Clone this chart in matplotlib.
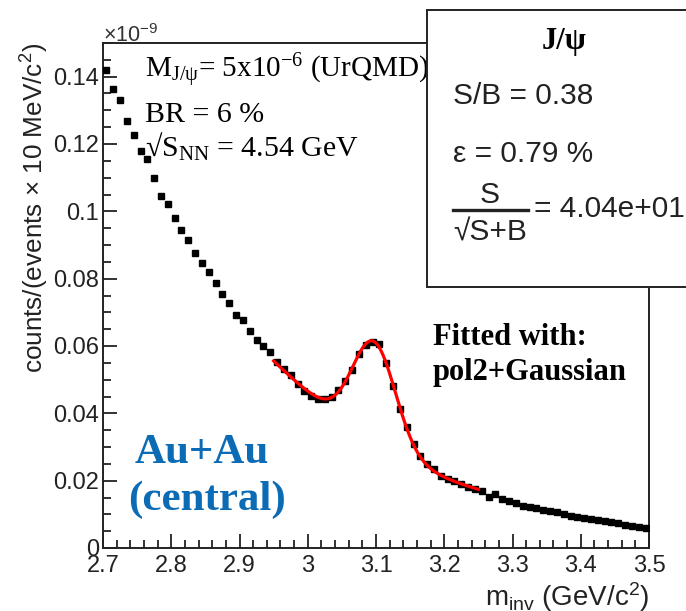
import numpy as np
import matplotlib
matplotlib.use("Agg")
import matplotlib.pyplot as plt
from matplotlib.patches import Rectangle
from matplotlib.lines import Line2D
from matplotlib.ticker import MultipleLocator

plt.rcParams["font.family"] = ["Liberation Sans", "DejaVu Sans"]
plt.rcParams["mathtext.default"] = "regular"

# histogram binning: 10 MeV bins over the invariant mass window
X_MIN = 2.70
X_MAX = 3.50
BIN_WIDTH = 0.01

# counts per event per bin (units of 1e-9)
counts = [
    0.1419, 0.1364, 0.1330, 0.1268, 0.1226, 0.1179, 0.1154, 0.1098, 0.1047, 0.1021,
    0.0981, 0.0944, 0.0915, 0.0875, 0.0848, 0.0821, 0.0788, 0.0755, 0.0727, 0.0691,
    0.0677, 0.0646, 0.0619, 0.0600, 0.0582, 0.0551, 0.0531, 0.0513, 0.0487, 0.0467,
    0.0452, 0.0444, 0.0444, 0.0448, 0.0468, 0.0497, 0.0528, 0.0576, 0.0604, 0.0613,
    0.0605, 0.0549, 0.0481, 0.0412, 0.0358, 0.0309, 0.0274, 0.0249, 0.0234, 0.0215,
    0.0205, 0.0198, 0.0190, 0.0180, 0.0175, 0.0168, 0.0152, 0.0160, 0.0145, 0.0140,
    0.0134, 0.0125, 0.0121, 0.0120, 0.0114, 0.0111, 0.0106, 0.0101, 0.0095, 0.0091,
    0.0089, 0.0086, 0.0083, 0.0079, 0.0076, 0.0073, 0.0069, 0.0066, 0.0062, 0.0059,
]

# fit window for pol2 + Gaussian
FIT_LO = 2.95
FIT_HI = 3.25

info_lines = ["S/B = 0.38", "\u03b5 = 0.79 %"]
signif_text = "= 4.04e+01"

W, H = 686, 611


def fx(px):
    return px / W


def fy(py):
    return 1 - py / H


def fit_pol2_gaus(x, y):
    """Least squares fit of pol2 + Gaussian, scanning mean and width."""
    best = None
    xc = x - 3.1
    for mu in np.linspace(3.08, 3.11, 61):
        for sig in np.linspace(0.005, 0.04, 71):
            g = np.exp(-0.5 * ((x - mu) / sig) ** 2)
            A = np.column_stack([np.ones_like(x), xc, xc ** 2, g])
            coef = np.linalg.lstsq(A, y, rcond=None)[0]
            r = np.sum((A @ coef - y) ** 2)
            if best is None or r < best[0]:
                best = (r, mu, sig, coef)
    return best[1:]


def fit_eval(x, mu, sig, coef):
    xc = x - 3.1
    g = np.exp(-0.5 * ((x - mu) / sig) ** 2)
    return coef[0] + coef[1] * xc + coef[2] * xc ** 2 + coef[3] * g


y = np.array(counts)
edges = np.arange(X_MIN, X_MAX + BIN_WIDTH / 2, BIN_WIDTH)
centers = 0.5 * (edges[:-1] + edges[1:])

sel = (centers > FIT_LO) & (centers < FIT_HI)
mu, sig, coef = fit_pol2_gaus(centers[sel], y[sel])
xf = np.linspace(FIT_LO, FIT_HI, 400)
yf = fit_eval(xf, mu, sig, coef)

fig = plt.figure(figsize=(W / 100, H / 100), dpi=100)
ax = fig.add_axes([fx(103), fy(548), fx(649) - fx(103), fy(43) - fy(548)])

ax.plot(centers, y, ls="none", marker="s", ms=4.8, color="black", zorder=3)
ax.plot(xf, yf, color="#ff0000", lw=2.3, zorder=4)

ax.set_xlim(X_MIN, X_MAX)
ax.set_ylim(0, 0.15)
ax.xaxis.set_major_locator(MultipleLocator(0.1))
ax.xaxis.set_minor_locator(MultipleLocator(0.02))
ax.yaxis.set_major_locator(MultipleLocator(0.02))
ax.yaxis.set_minor_locator(MultipleLocator(0.005))
ax.xaxis.set_major_formatter(plt.FuncFormatter(lambda v, p: f"{v:g}"))
ax.yaxis.set_major_formatter(plt.FuncFormatter(lambda v, p: f"{round(v, 3):g}"))
ax.tick_params(which="both", direction="in", width=1.3, colors="#222222",
               labelsize=17, top=False, right=False)
ax.tick_params(which="major", length=10)
ax.tick_params(which="minor", length=5.5)
ax.tick_params(axis="y", pad=3)
ax.tick_params(axis="x", pad=5)
for s in ax.spines.values():
    s.set_linewidth(1.4)
    s.set_color("#222222")

fig.text(fx(103), fy(42), r"$\times$10$^{-9}$", fontsize=15.5, color="#333333",
         ha="left", va="baseline")

fig.text(fx(35), fy(43), r"counts/(events $\times$ 10 MeV/c$^{2}$)", rotation=90,
         fontsize=18.8, color="#222222", ha="center", va="top")
fig.text(fx(649), fy(597), r"m$_{inv}$ (GeV/c$^{2}$)", fontsize=20,
         color="#222222", ha="right", va="center")

serif = ["Liberation Serif", "DejaVu Serif"]
fig.text(fx(145), fy(78), "M$_{J/\u03c8}$= 5x10$^{-6}$ (UrQMD)", family=serif,
         fontsize=21, ha="left", va="baseline")
fig.text(fx(145), fy(122), "BR = 6 %", family=serif, fontsize=21.5,
         ha="left", va="baseline")
fig.text(fx(145), fy(157), "\u221aS$_{NN}$ = 4.54 GeV", family=serif, fontsize=21.5,
         ha="left", va="baseline")

fig.text(fx(433), fy(345), "Fitted with:", family=serif, fontsize=22,
         weight="bold", ha="left", va="baseline")
fig.text(fx(433), fy(380), "pol2+Gaussian", family=serif, fontsize=22,
         weight="bold", ha="left", va="baseline")

blue = "#0b6bb5"
fig.text(fx(202), fy(463), "Au+Au", family=serif, fontsize=31, weight="bold",
         color=blue, ha="center", va="baseline")
fig.text(fx(207), fy(510), "(central)", family=serif, fontsize=31, weight="bold",
         color=blue, ha="center", va="baseline")

# statistics box in the upper right corner
box = Rectangle((fx(427), fy(287)), 1.0, fy(10) - fy(287), transform=fig.transFigure,
                facecolor="white", edgecolor="#222222", lw=1.4, zorder=5)
fig.add_artist(box)
fig.text(fx(564), fy(49), "J/\u03c8", family=serif, fontsize=22, weight="bold",
         ha="center", va="baseline", zorder=6)
fig.text(fx(453), fy(104), info_lines[0], fontsize=21.5, color="#222222",
         ha="left", va="baseline", zorder=6)
fig.text(fx(453), fy(162), info_lines[1], fontsize=21.5, color="#222222",
         ha="left", va="baseline", zorder=6)
fig.text(fx(490), fy(203), "S", fontsize=21.5, color="#222222",
         ha="center", va="baseline", zorder=6)
fig.add_artist(Line2D([fx(453), fx(528)], [fy(210), fy(210)], transform=fig.transFigure,
                      color="#222222", lw=2.4, zorder=6))
fig.text(fx(453), fy(241), "\u221aS+B", fontsize=21.5, color="#222222",
         ha="left", va="baseline", zorder=6)
fig.text(fx(534), fy(217), signif_text, fontsize=21.5, color="#222222",
         ha="left", va="baseline", zorder=6)

fig.savefig("out.png", dpi=100)
